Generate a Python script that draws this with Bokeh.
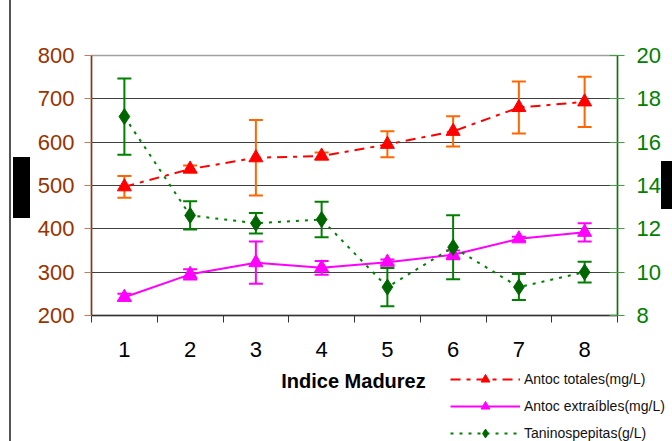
from bokeh.plotting import figure
from bokeh.layouts import column
from bokeh.models import (Range1d, LinearAxis, FixedTicker, ColumnDataSource, Whisker,
                          TeeHead, Legend, LegendItem, Label, InlineStyleSheet)
from bokeh.embed import file_html
from bokeh.resources import INLINE

# ---- data ----
madurez = [1, 2, 3, 4, 5, 6, 7, 8]
antoc_tot = [497, 538, 564, 568, 595, 625, 680, 693]
antoc_tot_err = [25, 8, 87, 8, 30, 35, 60, 58]
antoc_ext = [242, 295, 322, 310, 323, 340, 377, 392]
antoc_ext_err = [8, 12, 49, 16, 6, 10, 5, 21]
taninos = [17.18, 12.62, 12.26, 12.43, 9.31, 11.15, 9.31, 10.0]
taninos_err = [1.76, 0.65, 0.47, 0.82, 0.88, 1.48, 0.6, 0.48]
left_ticks = [200, 300, 400, 500, 600, 700, 800]
right_ticks = [8, 10, 12, 14, 16, 18, 20]
x_label = "Indice Madurez"
names = ["Antoc totales(mg/L)", "Antoc extraíbles(mg/L)", "Taninospepitas(g/L)"]

FONT = "Liberation Sans"
BROWN = "#993300"
GREEN = "#008000"
RED = "#FF0000"
ORANGE = "#FF6600"
MAGENTA = "#FF00FF"
DKGREEN = "#006600"

H_TOP = 365
H_BOT = 76

p = figure(width=672, height=H_TOP, output_backend="svg", toolbar_location=None,
           x_range=Range1d(0.5, 8.5), y_range=Range1d(200, 800),
           min_border_left=91, min_border_right=55, min_border_top=55, min_border_bottom=50)
p.frame_align = False
p.extra_y_ranges = {"tan": Range1d(8, 20)}
p.background_fill_color = "white"
p.border_fill_color = "white"
p.outline_line_color = "#a0a0a0"
p.outline_line_width = 1.5

# x axis
xa = p.xaxis[0]
xa.ticker = FixedTicker(ticks=madurez, minor_ticks=[i + 0.5 for i in range(0, 9)])
xa.major_tick_in = 0
xa.major_tick_out = 0
xa.minor_tick_in = 0
xa.minor_tick_out = 7
xa.minor_tick_line_color = "#333333"
xa.axis_line_color = "#333333"
xa.axis_line_width = 1.5
xa.major_label_text_font = FONT
xa.major_label_text_font_size = "22px"
xa.major_label_text_color = "black"
xa.major_label_standoff = 19

# left axis
ya = p.yaxis[0]
ya.ticker = FixedTicker(ticks=left_ticks)
ya.major_tick_in = 0
ya.major_tick_out = 7
ya.minor_tick_out = 0
ya.minor_tick_in = 0
ya.axis_line_color = BROWN
ya.axis_line_width = 1.5
ya.major_tick_line_color = "#c08060"
ya.major_label_text_color = BROWN
ya.major_label_text_font = FONT
ya.major_label_text_font_size = "22px"
ya.major_label_standoff = 10

# right axis
ra = LinearAxis(y_range_name="tan", ticker=FixedTicker(ticks=right_ticks))
ra.major_tick_in = 8
ra.major_tick_out = 7
ra.minor_tick_in = 0
ra.minor_tick_out = 0
ra.axis_line_color = GREEN
ra.axis_line_width = 1.5
ra.major_tick_line_color = "#40a040"
ra.major_label_text_color = GREEN
ra.major_label_text_font = FONT
ra.major_label_text_font_size = "22px"
ra.major_label_standoff = 12
p.add_layout(ra, "right")

p.xgrid.visible = False
p.ygrid.ticker = FixedTicker(ticks=left_ticks[1:-1])
p.ygrid.grid_line_color = "#404040"
p.ygrid.grid_line_width = 1

# sources
s_tot = ColumnDataSource(dict(x=madurez, y=antoc_tot,
                              lo=[v - e for v, e in zip(antoc_tot, antoc_tot_err)],
                              hi=[v + e for v, e in zip(antoc_tot, antoc_tot_err)]))
s_ext = ColumnDataSource(dict(x=madurez, y=antoc_ext,
                              lo=[v - e for v, e in zip(antoc_ext, antoc_ext_err)],
                              hi=[v + e for v, e in zip(antoc_ext, antoc_ext_err)]))
s_tan = ColumnDataSource(dict(x=madurez, y=taninos,
                              lo=[v - e for v, e in zip(taninos, taninos_err)],
                              hi=[v + e for v, e in zip(taninos, taninos_err)]))

def whisk(src, color, yr="default"):
    w = Whisker(source=src, base="x", lower="lo", upper="hi", dimension="height",
                line_color=color, line_width=2, y_range_name=yr,
                upper_head=TeeHead(size=14, line_color=color, line_width=2),
                lower_head=TeeHead(size=14, line_color=color, line_width=2))
    p.add_layout(w)

whisk(s_tot, ORANGE)
whisk(s_ext, MAGENTA)
whisk(s_tan, GREEN, "tan")

STY = [
    dict(line_color=RED, line_width=2, line_dash="10 6 4 6"),
    dict(line_color=MAGENTA, line_width=2),
    dict(line_color=GREEN, line_width=2, line_dash="3 6"),
]
MK = [
    dict(marker="triangle", fill_color=RED, line_color=RED),
    dict(marker="triangle", fill_color=MAGENTA, line_color=MAGENTA),
    dict(marker="diamond", fill_color=DKGREEN, line_color=DKGREEN),
]

p.line("x", "y", source=s_tot, **STY[0])
p.scatter("x", "y", source=s_tot, size=14, **MK[0])
p.line("x", "y", source=s_ext, **STY[1])
p.scatter("x", "y", source=s_ext, size=14, **MK[1])
p.line("x", "y", source=s_tan, y_range_name="tan", **STY[2])
p.scatter("x", "y", source=s_tan, size=16, y_range_name="tan", **MK[2])

p.stylesheets = [InlineStyleSheet(css=""":host::after { content: ""; position: absolute; left: 661px; top: 161px;
 width: 11px; height: 48px; background: #000; z-index: 20; }""")]

# ---- lower strip: axis title + legend ----
q = figure(width=672, height=H_BOT, output_backend="svg", toolbar_location=None,
           x_axis_location=None, y_axis_location=None,
           x_range=Range1d(0, 672), y_range=Range1d(0, H_BOT),
           min_border=0, min_border_left=0, min_border_right=0, min_border_top=0, min_border_bottom=0)
q.frame_align = False
q.grid.visible = False
q.outline_line_color = None
q.background_fill_color = "white"
q.border_fill_color = "white"

q.add_layout(Label(x=353, y=H_BOT - (380 - H_TOP), x_units="screen", y_units="screen", text=x_label,
                   text_align="center", text_baseline="middle",
                   text_font=FONT, text_font_style="bold", text_font_size="20px", text_color="black"))

# legend proxies: renderers without visible points (NaN), used only for legend swatches
nan = float("nan")
items = []
for i in range(3):
    src = ColumnDataSource(dict(x=[nan], y=[nan]))
    lr = q.line("x", "y", source=src, **STY[i])
    mr = q.scatter("x", "y", source=src, size=10, **MK[i])
    items.append(LegendItem(label=names[i], renderers=[lr, mr]))

legend = Legend(items=items, location=(450, -3), glyph_width=70, glyph_height=22, label_height=22,
                spacing=5, padding=0, margin=0, label_standoff=4,
                border_line_color=None, background_fill_alpha=0,
                label_text_font=FONT, label_text_font_size="14px", label_text_color="#111111")
q.add_layout(legend)

lay = column(p, q, spacing=0)
lay.stylesheets = [InlineStyleSheet(css=""":host::before { content: ""; position: absolute; left: 9px; top: 0px;
 width: 2px; height: 441px; background: #555; z-index: 20; }
:host::after { content: ""; position: absolute; left: 13px; top: 157px;
 width: 17px; height: 61px; background: #000; z-index: 20; }""")]

open("out.html", "w").write(file_html(lay, INLINE))
